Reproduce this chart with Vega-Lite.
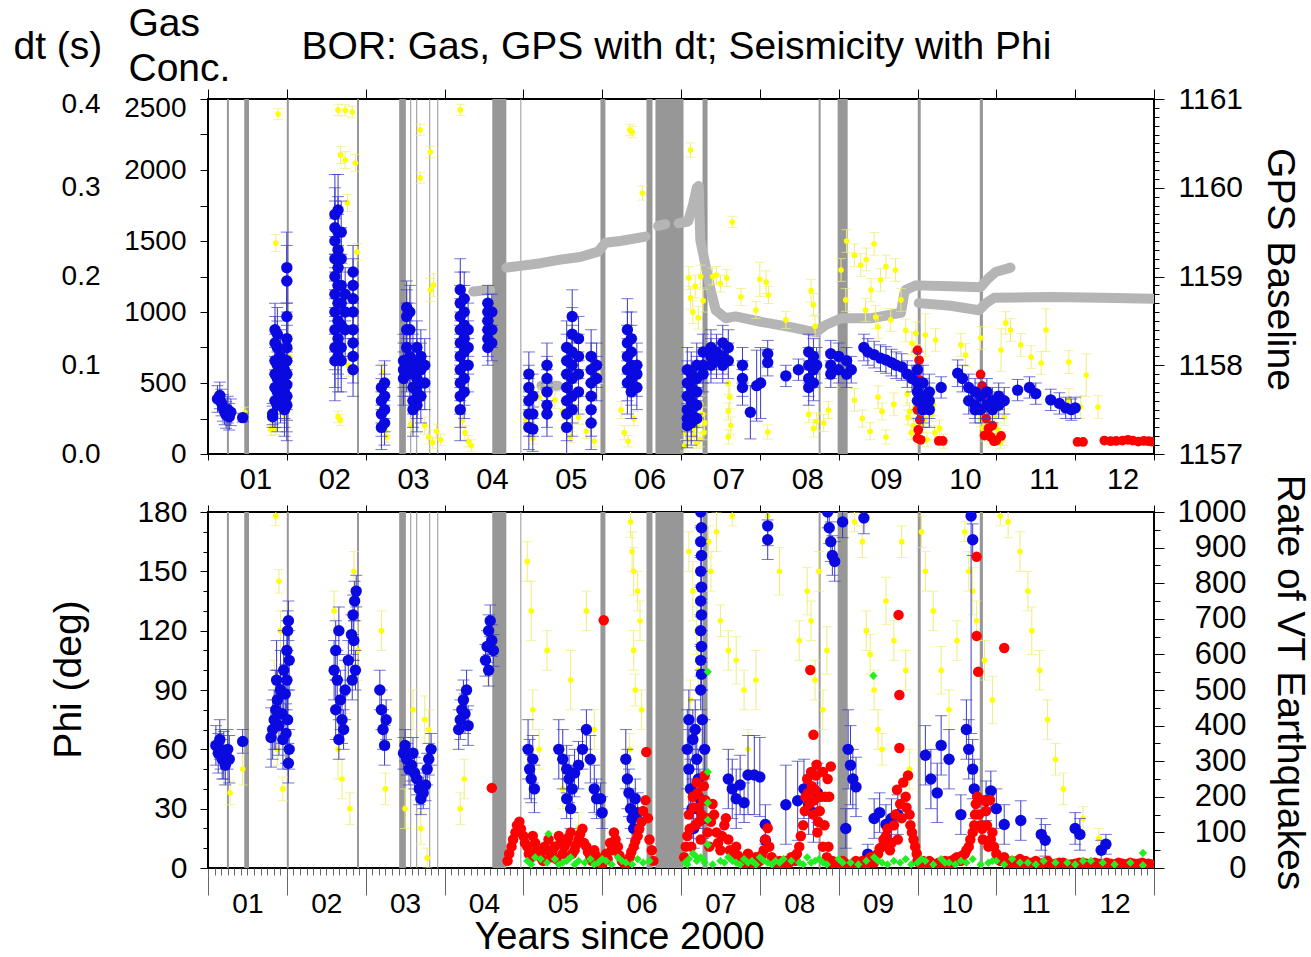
{
"$schema": "https://vega.github.io/schema/vega-lite/v6.json",
"background": "white",
"padding": {"left": 12, "top": 3, "right": 5, "bottom": 5},
"spacing": 58,
"bounds": "flush",
"config": {
  "font": "Liberation Sans",
  "view": {"stroke": "#000", "strokeWidth": 2},
  "axis": {"labelFont": "Liberation Sans", "titleFont": "Liberation Sans", "labelColor": "#000", "titleColor": "#000", "tickColor": "#000", "domain": false, "grid": false, "titleFontWeight": "normal", "labelOverlap": false, "labelFlush": false, "labelFontSize": 28}
},
"datasets": {
"bands": [{"a":1.24,"b":1.265},{"a":1.46,"b":1.52},{"a":2.0,"b":2.025},{"a":2.89,"b":2.915},{"a":3.425,"b":3.51},{"a":3.565,"b":3.578},{"a":3.641,"b":3.654},{"a":3.806,"b":3.819},{"a":3.908,"b":3.921},{"a":4.606,"b":4.784},{"a":4.962,"b":4.975},{"a":5.978,"b":6.041},{"a":6.562,"b":6.638},{"a":6.676,"b":7.032},{"a":7.273,"b":7.337},{"a":8.746,"b":8.771},{"a":8.987,"b":9.114},{"a":10.003,"b":10.041},{"a":10.79,"b":10.83}],
"gps": [{"t":4.365,"g":1158.83,"s":1},{"t":4.58,"g":1158.85,"s":1},
{"t":4.784,"g":1159.1,"s":2},{"t":4.96,"g":1159.12,"s":2},{"t":5.22,"g":1159.15,"s":2},{"t":5.47,"g":1159.19,"s":2},{"t":5.72,"g":1159.22,"s":2},{"t":5.95,"g":1159.28,"s":2},{"t":6.04,"g":1159.38,"s":2},{"t":6.23,"g":1159.4,"s":2},{"t":6.55,"g":1159.45,"s":2},
{"t":6.71,"g":1159.57,"s":3},{"t":6.8,"g":1159.59,"s":3},
{"t":6.97,"g":1159.6,"s":4},{"t":7.09,"g":1159.62,"s":4},{"t":7.15,"g":1159.8,"s":4},{"t":7.2,"g":1160.0,"s":4},{"t":7.225,"g":1160.02,"s":4},{"t":7.245,"g":1159.41,"s":4},{"t":7.31,"g":1159.13,"s":4},{"t":7.375,"g":1158.85,"s":4},{"t":7.44,"g":1158.62,"s":4},{"t":7.565,"g":1158.53,"s":4},{"t":7.69,"g":1158.55,"s":4},{"t":8.01,"g":1158.49,"s":4},{"t":8.39,"g":1158.43,"s":4},{"t":8.71,"g":1158.37,"s":4},{"t":8.83,"g":1158.45,"s":4},{"t":9.03,"g":1158.53,"s":4},{"t":9.41,"g":1158.53,"s":4},{"t":9.79,"g":1158.59,"s":4},{"t":9.83,"g":1158.8,"s":4},{"t":9.85,"g":1158.85,"s":4},{"t":9.98,"g":1158.9,"s":4},{"t":10.42,"g":1158.89,"s":4},{"t":10.8,"g":1158.88,"s":4},{"t":10.9,"g":1158.98,"s":4},{"t":10.99,"g":1159.05,"s":4},{"t":11.18,"g":1159.1,"s":4},
{"t":10.016,"g":1158.7,"s":5},{"t":10.42,"g":1158.67,"s":5},{"t":10.78,"g":1158.62,"s":5},{"t":10.87,"g":1158.7,"s":5},{"t":10.97,"g":1158.76,"s":5},{"t":11.69,"g":1158.77,"s":5},{"t":12.33,"g":1158.76,"s":5},{"t":13.0,"g":1158.75,"s":5},
{"t":5.23,"g":1157.77,"s":6},{"t":5.44,"g":1157.77,"s":6}],
"gas": [{"t":1.47,"g":290,"e":40},{"t":1.8,"g":170,"e":40},{"t":1.85,"g":175,"e":40},{"t":1.89,"g":2394,"e":40},{"t":1.86,"g":1486,"e":60},{"t":1.91,"g":310,"e":50},{"t":1.98,"g":275,"e":40},{"t":2.04,"g":683,"e":60},{"t":1.81,"g":204,"e":40},{"t":2.65,"g":2423,"e":40},{"t":2.74,"g":2420,"e":40},{"t":2.83,"g":2408,"e":40},{"t":2.68,"g":2106,"e":60},{"t":2.74,"g":2070,"e":60},{"t":2.87,"g":2049,"e":60},{"t":2.89,"g":1423,"e":60},{"t":2.77,"g":1768,"e":60},{"t":2.65,"g":261,"e":40},{"t":2.68,"g":240,"e":40},{"t":2.78,"g":627,"e":80},{"t":3.22,"g":577,"e":60},{"t":3.27,"g":120,"e":40},{"t":3.25,"g":169,"e":40},{"t":3.6,"g":289,"e":50},{"t":3.69,"g":2282,"e":40},{"t":3.82,"g":2127,"e":40},{"t":3.69,"g":1944,"e":40},{"t":3.82,"g":1155,"e":80},{"t":3.86,"g":1190,"e":80},{"t":3.75,"g":200,"e":60},{"t":3.8,"g":120,"e":50},{"t":3.85,"g":80,"e":40},{"t":3.9,"g":160,"e":50},{"t":3.95,"g":100,"e":40},{"t":3.57,"g":204,"e":50},{"t":4.2,"g":2423,"e":40},{"t":4.26,"g":150,"e":50},{"t":4.3,"g":90,"e":40},{"t":4.34,"g":60,"e":40},{"t":4.56,"g":944,"e":60},{"t":4.23,"g":240,"e":50},{"t":5.03,"g":240,"e":60},{"t":5.08,"g":180,"e":50},{"t":5.12,"g":110,"e":40},{"t":5.2,"g":400,"e":70},{"t":5.28,"g":450,"e":60},{"t":5.4,"g":380,"e":60},{"t":5.5,"g":300,"e":60},{"t":5.56,"g":200,"e":50},{"t":5.6,"g":120,"e":40},{"t":5.65,"g":330,"e":60},{"t":5.7,"g":260,"e":50},{"t":5.8,"g":160,"e":50},{"t":5.87,"g":500,"e":70},{"t":5.95,"g":556,"e":60},{"t":5.9,"g":90,"e":40},{"t":6.35,"g":2282,"e":40},{"t":6.38,"g":2268,"e":40},{"t":6.51,"g":1838,"e":50},{"t":6.24,"g":310,"e":60},{"t":6.28,"g":150,"e":50},{"t":6.33,"g":90,"e":40},{"t":6.4,"g":250,"e":50},{"t":7.12,"g":2141,"e":50},{"t":7.1,"g":1240,"e":80},{"t":7.12,"g":1100,"e":80},{"t":7.15,"g":1000,"e":80},{"t":7.18,"g":1180,"e":80},{"t":7.22,"g":960,"e":80},{"t":7.25,"g":1250,"e":80},{"t":7.28,"g":1080,"e":80},{"t":7.4,"g":1250,"e":60},{"t":7.45,"g":1260,"e":60},{"t":7.5,"g":1200,"e":60},{"t":7.58,"g":1240,"e":60},{"t":7.6,"g":500,"e":80},{"t":7.62,"g":400,"e":80},{"t":7.6,"g":300,"e":60},{"t":7.63,"g":200,"e":60},{"t":7.6,"g":120,"e":50},{"t":7.76,"g":1106,"e":60},{"t":7.95,"g":1014,"e":60},{"t":8.0,"g":1230,"e":120},{"t":8.08,"g":1210,"e":80},{"t":8.11,"g":1120,"e":60},{"t":8.33,"g":944,"e":60},{"t":8.1,"g":155,"e":50},{"t":7.65,"g":1634,"e":40},{"t":7.1,"g":450,"e":80},{"t":7.12,"g":300,"e":60},{"t":7.15,"g":180,"e":60},{"t":7.2,"g":80,"e":40},{"t":7.25,"g":350,"e":60},{"t":7.3,"g":220,"e":60},{"t":7.05,"g":60,"e":40},{"t":8.65,"g":1150,"e":80},{"t":8.68,"g":1050,"e":80},{"t":8.7,"g":900,"e":80},{"t":8.62,"g":280,"e":60},{"t":8.68,"g":180,"e":60},{"t":8.72,"g":230,"e":60},{"t":8.87,"g":310,"e":60},{"t":8.81,"g":218,"e":60},{"t":9.03,"g":1296,"e":80},{"t":9.28,"g":1331,"e":80},{"t":9.41,"g":1155,"e":80},{"t":9.53,"g":1225,"e":80},{"t":9.72,"g":1296,"e":80},{"t":9.79,"g":1085,"e":80},{"t":9.34,"g":1014,"e":80},{"t":9.47,"g":965,"e":80},{"t":9.5,"g":894,"e":80},{"t":9.66,"g":944,"e":80},{"t":9.09,"g":1085,"e":80},{"t":9.85,"g":870,"e":80},{"t":9.93,"g":780,"e":80},{"t":9.98,"g":850,"e":80},{"t":10.0,"g":683,"e":80},{"t":10.1,"g":838,"e":150},{"t":10.23,"g":803,"e":80},{"t":10.55,"g":768,"e":80},{"t":10.61,"g":697,"e":80},{"t":10.8,"g":817,"e":80},{"t":11.06,"g":732,"e":150},{"t":11.12,"g":923,"e":80},{"t":11.18,"g":873,"e":80},{"t":11.31,"g":768,"e":80},{"t":11.44,"g":683,"e":80},{"t":11.63,"g":873,"e":150},{"t":11.57,"g":641,"e":80},{"t":11.92,"g":648,"e":80},{"t":11.92,"g":380,"e":80},{"t":12.07,"g":331,"e":80},{"t":12.29,"g":331,"e":80},{"t":12.14,"g":556,"e":150},{"t":9.87,"g":420,"e":80},{"t":9.9,"g":300,"e":60},{"t":9.95,"g":200,"e":60},{"t":10.02,"g":120,"e":50},{"t":10.1,"g":250,"e":60},{"t":10.2,"g":350,"e":80},{"t":10.28,"g":180,"e":60},{"t":10.33,"g":90,"e":50},{"t":10.75,"g":350,"e":80},{"t":10.8,"g":250,"e":60},{"t":10.85,"g":150,"e":60},{"t":10.9,"g":300,"e":60},{"t":10.95,"g":200,"e":60},{"t":11.0,"g":130,"e":50},{"t":11.05,"g":80,"e":40},{"t":11.1,"g":260,"e":60},{"t":9.2,"g":380,"e":80},{"t":9.3,"g":250,"e":60},{"t":9.4,"g":160,"e":60},{"t":9.5,"g":400,"e":80},{"t":9.55,"g":300,"e":60},{"t":9.6,"g":120,"e":50},{"t":9.7,"g":350,"e":80},{"t":9.1,"g":1500,"e":80},{"t":9.2,"g":1400,"e":80},{"t":9.35,"g":1370,"e":80},{"t":9.45,"g":1480,"e":80},{"t":9.6,"g":1320,"e":80},
{"t":7.06,"g":150,"e":50},{"t":7.09,"g":100,"e":50},{"t":7.14,"g":250,"e":50},{"t":7.17,"g":130,"e":50},{"t":7.21,"g":200,"e":50},{"t":7.24,"g":100,"e":50},{"t":7.27,"g":280,"e":50},{"t":7.29,"g":150,"e":50},{"t":9.88,"g":260,"e":50},{"t":9.92,"g":150,"e":50},{"t":9.97,"g":330,"e":50},{"t":10.05,"g":200,"e":50},{"t":10.12,"g":100,"e":50},{"t":10.18,"g":280,"e":50},{"t":10.22,"g":150,"e":50},{"t":10.78,"g":300,"e":50},{"t":10.83,"g":180,"e":50},{"t":10.88,"g":220,"e":50},{"t":10.92,"g":120,"e":50},{"t":10.98,"g":260,"e":50},{"t":11.02,"g":170,"e":50},{"t":11.08,"g":110,"e":50}],
"redtop": [{"t":10.0,"g":730},{"t":10.02,"g":660},{"t":10.0,"g":590},{"t":10.03,"g":520},{"t":10.0,"g":450},{"t":10.02,"g":380},{"t":10.0,"g":310},{"t":10.03,"g":240},{"t":10.01,"g":170},{"t":10.0,"g":110},{"t":10.04,"g":100},{"t":10.27,"g":92},{"t":10.32,"g":92},{"t":10.8,"g":560},{"t":10.82,"g":480},{"t":10.85,"g":400},{"t":10.83,"g":320},{"t":10.87,"g":250},{"t":10.9,"g":180},{"t":10.93,"g":120},{"t":10.97,"g":90},{"t":11.0,"g":95},{"t":10.85,"g":130},{"t":10.95,"g":200},{"t":11.06,"g":127},{"t":12.03,"g":85},{"t":12.1,"g":85},{"t":12.37,"g":95},{"t":12.45,"g":90},{"t":12.52,"g":92},{"t":12.6,"g":95},{"t":12.67,"g":100},{"t":12.73,"g":95},{"t":12.8,"g":88},{"t":12.87,"g":92},{"t":12.93,"g":90},{"t":12.97,"g":88}],
"dt": [{"t":1.12,"v":0.062,"e":0.015},{"t":1.15,"v":0.066,"e":0.015},{"t":1.17,"v":0.058,"e":0.015},{"t":1.19,"v":0.052,"e":0.015},{"t":1.21,"v":0.048,"e":0.015},{"t":1.23,"v":0.044,"e":0.015},{"t":1.25,"v":0.05,"e":0.015},{"t":1.27,"v":0.042,"e":0.015},{"t":1.29,"v":0.047,"e":0.015},{"t":1.44,"v":0.041,"e":0.005},
{"t":1.82,"v":0.045,"e":0.012},{"t":1.82,"v":0.042,"e":0.012},
{"t":1.85,"v":0.14,"e":0.03},{"t":1.85,"v":0.125,"e":0.03},{"t":1.85,"v":0.105,"e":0.03},{"t":1.85,"v":0.09,"e":0.03},{"t":1.85,"v":0.075,"e":0.03},{"t":1.85,"v":0.06,"e":0.03},
{"t":1.88,"v":0.135,"e":0.03},{"t":1.88,"v":0.12,"e":0.03},{"t":1.88,"v":0.1,"e":0.03},{"t":1.88,"v":0.085,"e":0.03},{"t":1.88,"v":0.07,"e":0.03},{"t":1.88,"v":0.055,"e":0.03},
{"t":1.92,"v":0.11,"e":0.03},{"t":1.92,"v":0.095,"e":0.03},{"t":1.92,"v":0.08,"e":0.03},{"t":1.92,"v":0.065,"e":0.03},
{"t":1.97,"v":0.095,"e":0.03},{"t":1.97,"v":0.08,"e":0.03},{"t":1.97,"v":0.07,"e":0.03},{"t":1.97,"v":0.06,"e":0.03},{"t":1.97,"v":0.05,"e":0.03},
{"t":2.0,"v":0.21,"e":0.04},{"t":2.0,"v":0.195,"e":0.04},{"t":2.0,"v":0.155,"e":0.04},{"t":2.0,"v":0.13,"e":0.04},{"t":2.0,"v":0.12,"e":0.04},{"t":2.0,"v":0.105,"e":0.04},{"t":2.0,"v":0.09,"e":0.04},{"t":2.0,"v":0.078,"e":0.04},{"t":2.0,"v":0.065,"e":0.04},{"t":2.0,"v":0.055,"e":0.04},
{"t":2.61,"v":0.27,"e":0.045},{"t":2.61,"v":0.255,"e":0.045},{"t":2.61,"v":0.24,"e":0.045},{"t":2.61,"v":0.22,"e":0.045},{"t":2.61,"v":0.2,"e":0.045},{"t":2.61,"v":0.18,"e":0.045},{"t":2.61,"v":0.16,"e":0.045},{"t":2.61,"v":0.14,"e":0.045},{"t":2.61,"v":0.12,"e":0.045},{"t":2.61,"v":0.105,"e":0.045},
{"t":2.65,"v":0.275,"e":0.04},{"t":2.65,"v":0.25,"e":0.04},{"t":2.65,"v":0.23,"e":0.04},{"t":2.65,"v":0.21,"e":0.04},{"t":2.65,"v":0.19,"e":0.04},{"t":2.65,"v":0.17,"e":0.04},{"t":2.65,"v":0.15,"e":0.04},{"t":2.65,"v":0.13,"e":0.04},{"t":2.65,"v":0.11,"e":0.04},
{"t":2.69,"v":0.25,"e":0.035},{"t":2.69,"v":0.22,"e":0.035},{"t":2.69,"v":0.19,"e":0.035},{"t":2.69,"v":0.17,"e":0.035},{"t":2.69,"v":0.145,"e":0.035},{"t":2.69,"v":0.12,"e":0.035},{"t":2.69,"v":0.105,"e":0.035},
{"t":2.74,"v":0.18,"e":0.03},{"t":2.74,"v":0.16,"e":0.03},{"t":2.74,"v":0.14,"e":0.03},
{"t":2.84,"v":0.205,"e":0.03},{"t":2.84,"v":0.19,"e":0.03},{"t":2.84,"v":0.175,"e":0.03},{"t":2.84,"v":0.16,"e":0.03},{"t":2.84,"v":0.14,"e":0.03},{"t":2.84,"v":0.125,"e":0.03},{"t":2.84,"v":0.11,"e":0.03},{"t":2.84,"v":0.095,"e":0.03},
{"t":3.2,"v":0.075,"e":0.025},{"t":3.2,"v":0.06,"e":0.025},{"t":3.2,"v":0.045,"e":0.025},{"t":3.2,"v":0.03,"e":0.025},{"t":3.24,"v":0.08,"e":0.025},{"t":3.24,"v":0.065,"e":0.025},{"t":3.24,"v":0.05,"e":0.025},{"t":3.24,"v":0.035,"e":0.025},
{"t":3.48,"v":0.105,"e":0.03},{"t":3.48,"v":0.095,"e":0.03},{"t":3.48,"v":0.085,"e":0.03},
{"t":3.52,"v":0.165,"e":0.03},{"t":3.52,"v":0.155,"e":0.03},{"t":3.52,"v":0.14,"e":0.03},{"t":3.52,"v":0.12,"e":0.03},{"t":3.52,"v":0.1,"e":0.03},
{"t":3.56,"v":0.16,"e":0.03},{"t":3.56,"v":0.14,"e":0.03},{"t":3.56,"v":0.11,"e":0.03},{"t":3.56,"v":0.095,"e":0.03},
{"t":3.6,"v":0.105,"e":0.03},{"t":3.6,"v":0.09,"e":0.03},{"t":3.6,"v":0.075,"e":0.03},{"t":3.6,"v":0.06,"e":0.03},{"t":3.6,"v":0.05,"e":0.03},
{"t":3.65,"v":0.12,"e":0.03},{"t":3.65,"v":0.1,"e":0.03},{"t":3.65,"v":0.085,"e":0.03},{"t":3.65,"v":0.07,"e":0.03},{"t":3.65,"v":0.055,"e":0.03},
{"t":3.7,"v":0.11,"e":0.03},{"t":3.7,"v":0.095,"e":0.03},{"t":3.7,"v":0.08,"e":0.03},{"t":3.7,"v":0.065,"e":0.03},{"t":3.75,"v":0.1,"e":0.03},{"t":3.75,"v":0.08,"e":0.03},
{"t":4.2,"v":0.185,"e":0.035},{"t":4.2,"v":0.17,"e":0.035},{"t":4.2,"v":0.155,"e":0.035},{"t":4.2,"v":0.14,"e":0.035},{"t":4.2,"v":0.125,"e":0.035},{"t":4.2,"v":0.11,"e":0.035},{"t":4.2,"v":0.095,"e":0.035},{"t":4.2,"v":0.08,"e":0.035},{"t":4.2,"v":0.065,"e":0.035},{"t":4.2,"v":0.05,"e":0.035},
{"t":4.25,"v":0.175,"e":0.03},{"t":4.25,"v":0.16,"e":0.03},{"t":4.25,"v":0.145,"e":0.03},{"t":4.25,"v":0.13,"e":0.03},{"t":4.25,"v":0.115,"e":0.03},{"t":4.25,"v":0.1,"e":0.03},{"t":4.25,"v":0.085,"e":0.03},{"t":4.25,"v":0.07,"e":0.03},
{"t":4.3,"v":0.14,"e":0.03},{"t":4.3,"v":0.12,"e":0.03},{"t":4.3,"v":0.1,"e":0.03},
{"t":4.55,"v":0.17,"e":0.02},{"t":4.55,"v":0.16,"e":0.02},{"t":4.55,"v":0.15,"e":0.02},{"t":4.55,"v":0.14,"e":0.02},{"t":4.55,"v":0.13,"e":0.02},{"t":4.55,"v":0.12,"e":0.02},{"t":4.6,"v":0.16,"e":0.02},{"t":4.6,"v":0.14,"e":0.02},{"t":4.6,"v":0.125,"e":0.02},
{"t":5.07,"v":0.09,"e":0.025},{"t":5.07,"v":0.075,"e":0.025},{"t":5.07,"v":0.06,"e":0.025},{"t":5.07,"v":0.045,"e":0.025},{"t":5.07,"v":0.03,"e":0.025},{"t":5.12,"v":0.065,"e":0.025},{"t":5.12,"v":0.045,"e":0.025},{"t":5.12,"v":0.028,"e":0.025},
{"t":5.3,"v":0.1,"e":0.025},{"t":5.3,"v":0.085,"e":0.025},{"t":5.3,"v":0.07,"e":0.025},{"t":5.3,"v":0.055,"e":0.025},{"t":5.3,"v":0.045,"e":0.025},
{"t":5.55,"v":0.12,"e":0.03},{"t":5.55,"v":0.105,"e":0.03},{"t":5.55,"v":0.09,"e":0.03},{"t":5.55,"v":0.075,"e":0.03},{"t":5.55,"v":0.06,"e":0.03},{"t":5.55,"v":0.045,"e":0.03},{"t":5.55,"v":0.03,"e":0.03},
{"t":5.62,"v":0.155,"e":0.03},{"t":5.62,"v":0.135,"e":0.03},{"t":5.62,"v":0.115,"e":0.03},{"t":5.62,"v":0.1,"e":0.03},{"t":5.62,"v":0.085,"e":0.03},{"t":5.62,"v":0.065,"e":0.03},{"t":5.62,"v":0.05,"e":0.03},
{"t":5.7,"v":0.13,"e":0.025},{"t":5.7,"v":0.11,"e":0.025},{"t":5.7,"v":0.09,"e":0.025},{"t":5.7,"v":0.07,"e":0.025},
{"t":5.86,"v":0.11,"e":0.03},{"t":5.86,"v":0.095,"e":0.03},{"t":5.86,"v":0.08,"e":0.03},{"t":5.86,"v":0.065,"e":0.03},{"t":5.86,"v":0.05,"e":0.03},{"t":5.86,"v":0.035,"e":0.03},{"t":5.93,"v":0.1,"e":0.025},{"t":5.93,"v":0.085,"e":0.025},
{"t":6.32,"v":0.14,"e":0.035},{"t":6.32,"v":0.125,"e":0.035},{"t":6.32,"v":0.11,"e":0.035},{"t":6.32,"v":0.095,"e":0.035},{"t":6.32,"v":0.08,"e":0.035},
{"t":6.37,"v":0.13,"e":0.03},{"t":6.37,"v":0.115,"e":0.03},{"t":6.37,"v":0.1,"e":0.03},{"t":6.37,"v":0.085,"e":0.03},{"t":6.37,"v":0.07,"e":0.03},{"t":6.44,"v":0.1,"e":0.025},{"t":6.44,"v":0.09,"e":0.025},{"t":6.44,"v":0.075,"e":0.025},
{"t":7.08,"v":0.095,"e":0.025},{"t":7.08,"v":0.08,"e":0.025},{"t":7.08,"v":0.065,"e":0.025},{"t":7.08,"v":0.05,"e":0.025},{"t":7.08,"v":0.04,"e":0.025},{"t":7.08,"v":0.032,"e":0.025},
{"t":7.13,"v":0.09,"e":0.025},{"t":7.13,"v":0.075,"e":0.025},{"t":7.13,"v":0.06,"e":0.025},{"t":7.13,"v":0.045,"e":0.025},{"t":7.13,"v":0.035,"e":0.025},
{"t":7.2,"v":0.1,"e":0.025},{"t":7.2,"v":0.085,"e":0.025},{"t":7.2,"v":0.07,"e":0.025},{"t":7.2,"v":0.055,"e":0.025},{"t":7.2,"v":0.04,"e":0.025},
{"t":7.28,"v":0.115,"e":0.02},{"t":7.28,"v":0.1,"e":0.02},{"t":7.28,"v":0.09,"e":0.02},{"t":7.38,"v":0.12,"e":0.02},{"t":7.38,"v":0.11,"e":0.02},{"t":7.38,"v":0.1,"e":0.02},{"t":7.45,"v":0.115,"e":0.02},{"t":7.45,"v":0.105,"e":0.02},{"t":7.53,"v":0.125,"e":0.02},{"t":7.53,"v":0.11,"e":0.02},{"t":7.53,"v":0.1,"e":0.02},{"t":7.6,"v":0.12,"e":0.02},{"t":7.6,"v":0.105,"e":0.02},
{"t":7.78,"v":0.1,"e":0.02},{"t":7.78,"v":0.085,"e":0.02},{"t":7.78,"v":0.075,"e":0.02},{"t":7.88,"v":0.047,"e":0.03},{"t":7.96,"v":0.077,"e":0.04},{"t":8.01,"v":0.08,"e":0.04},{"t":8.1,"v":0.113,"e":0.015},{"t":8.1,"v":0.103,"e":0.015},{"t":8.33,"v":0.088,"e":0.012},{"t":8.49,"v":0.095,"e":0.012},
{"t":8.62,"v":0.115,"e":0.02},{"t":8.62,"v":0.1,"e":0.02},{"t":8.62,"v":0.085,"e":0.02},{"t":8.62,"v":0.075,"e":0.02},{"t":8.68,"v":0.11,"e":0.02},{"t":8.68,"v":0.095,"e":0.02},{"t":8.68,"v":0.08,"e":0.02},{"t":8.72,"v":0.1,"e":0.02},
{"t":8.9,"v":0.113,"e":0.015},{"t":8.9,"v":0.1,"e":0.015},{"t":8.9,"v":0.09,"e":0.015},{"t":9.0,"v":0.11,"e":0.015},{"t":9.0,"v":0.095,"e":0.015},{"t":9.1,"v":0.105,"e":0.015},{"t":9.1,"v":0.09,"e":0.015},{"t":9.16,"v":0.095,"e":0.015},
{"t":9.32,"v":0.12,"e":0.015},{"t":9.37,"v":0.115,"e":0.015},{"t":9.45,"v":0.112,"e":0.015},{"t":9.53,"v":0.108,"e":0.015},{"t":9.6,"v":0.106,"e":0.015},{"t":9.67,"v":0.103,"e":0.015},{"t":9.73,"v":0.1,"e":0.015},{"t":9.8,"v":0.098,"e":0.015},{"t":9.87,"v":0.09,"e":0.015},{"t":9.93,"v":0.085,"e":0.015},
{"t":10.0,"v":0.095,"e":0.02},{"t":10.0,"v":0.08,"e":0.02},{"t":10.0,"v":0.07,"e":0.02},{"t":10.0,"v":0.06,"e":0.02},{"t":10.07,"v":0.08,"e":0.02},{"t":10.07,"v":0.065,"e":0.02},{"t":10.07,"v":0.055,"e":0.02},{"t":10.07,"v":0.05,"e":0.02},{"t":10.15,"v":0.07,"e":0.02},{"t":10.15,"v":0.06,"e":0.02},{"t":10.15,"v":0.05,"e":0.02},{"t":10.3,"v":0.075,"e":0.012},
{"t":10.51,"v":0.091,"e":0.015},{"t":10.57,"v":0.085,"e":0.015},{"t":10.65,"v":0.075,"e":0.015},{"t":10.65,"v":0.06,"e":0.015},{"t":10.73,"v":0.07,"e":0.015},{"t":10.73,"v":0.055,"e":0.015},{"t":10.73,"v":0.05,"e":0.015},{"t":10.8,"v":0.065,"e":0.015},{"t":10.8,"v":0.05,"e":0.015},{"t":10.88,"v":0.07,"e":0.015},{"t":10.88,"v":0.055,"e":0.015},{"t":10.95,"v":0.06,"e":0.015},{"t":10.95,"v":0.05,"e":0.015},{"t":11.03,"v":0.065,"e":0.015},{"t":11.03,"v":0.055,"e":0.015},{"t":11.1,"v":0.06,"e":0.015},
{"t":11.27,"v":0.072,"e":0.012},{"t":11.42,"v":0.075,"e":0.012},{"t":11.5,"v":0.068,"e":0.012},{"t":11.69,"v":0.061,"e":0.012},{"t":11.8,"v":0.057,"e":0.012},{"t":11.88,"v":0.052,"e":0.012},{"t":11.95,"v":0.05,"e":0.012},{"t":12.0,"v":0.052,"e":0.012}],
"phiY": [{"t":1.2,"p":50,"e":8},{"t":1.28,"p":38,"e":6},{"t":1.44,"p":50,"e":8},{"t":1.86,"p":178,"e":5},{"t":1.9,"p":145,"e":6},{"t":1.92,"p":120,"e":10},{"t":1.84,"p":95,"e":10},{"t":1.88,"p":60,"e":8},{"t":1.95,"p":40,"e":6},{"t":2.6,"p":130,"e":10},{"t":2.65,"p":60,"e":15},{"t":2.7,"p":45,"e":10},{"t":2.75,"p":90,"e":12},{"t":2.8,"p":30,"e":8},{"t":2.85,"p":150,"e":10},{"t":2.9,"p":110,"e":15},{"t":3.2,"p":120,"e":10},{"t":3.25,"p":40,"e":8},{"t":3.5,"p":30,"e":10},{"t":3.6,"p":80,"e":10},{"t":3.7,"p":20,"e":8},{"t":3.75,"p":75,"e":12},{"t":3.8,"p":70,"e":10},{"t":3.78,"p":5,"e":5},{"t":4.2,"p":30,"e":8},{"t":4.25,"p":45,"e":10},{"t":4.55,"p":100,"e":8},{"t":5.05,"p":155,"e":10},{"t":5.1,"p":130,"e":15},{"t":5.12,"p":80,"e":10},{"t":5.2,"p":60,"e":10},{"t":5.3,"p":110,"e":10},{"t":5.5,"p":40,"e":10},{"t":5.6,"p":95,"e":15},{"t":5.7,"p":20,"e":8},{"t":5.8,"p":130,"e":10},{"t":5.9,"p":70,"e":10},{"t":6.36,"p":175,"e":8},{"t":6.38,"p":160,"e":10},{"t":6.4,"p":150,"e":12},{"t":6.45,"p":140,"e":10},{"t":6.4,"p":110,"e":10},{"t":6.48,"p":125,"e":10},{"t":6.42,"p":90,"e":8},{"t":6.35,"p":60,"e":8},{"t":6.5,"p":80,"e":10},{"t":7.1,"p":160,"e":10},{"t":7.15,"p":140,"e":15},{"t":7.2,"p":120,"e":12},{"t":7.22,"p":100,"e":10},{"t":7.12,"p":85,"e":10},{"t":7.35,"p":165,"e":8},{"t":7.38,"p":150,"e":10},{"t":7.45,"p":170,"e":10},{"t":7.5,"p":125,"e":8},{"t":7.6,"p":110,"e":10},{"t":7.65,"p":178,"e":5},{"t":7.7,"p":105,"e":12},{"t":7.8,"p":90,"e":10},{"t":7.85,"p":60,"e":10},{"t":7.95,"p":95,"e":15},{"t":8.1,"p":178,"e":4},{"t":8.25,"p":150,"e":12},{"t":8.5,"p":115,"e":10},{"t":8.6,"p":140,"e":12},{"t":8.65,"p":125,"e":10},{"t":8.7,"p":95,"e":10},{"t":8.75,"p":150,"e":10},{"t":8.8,"p":80,"e":10},{"t":8.85,"p":110,"e":12},{"t":9.2,"p":175,"e":5},{"t":9.3,"p":165,"e":8},{"t":9.35,"p":120,"e":10},{"t":9.4,"p":108,"e":10},{"t":9.45,"p":90,"e":10},{"t":9.5,"p":70,"e":10},{"t":9.55,"p":60,"e":8},{"t":9.6,"p":135,"e":12},{"t":9.7,"p":115,"e":10},{"t":9.8,"p":165,"e":8},{"t":9.85,"p":100,"e":10},{"t":9.9,"p":50,"e":10},{"t":10.05,"p":170,"e":8},{"t":10.1,"p":150,"e":10},{"t":10.2,"p":130,"e":10},{"t":10.3,"p":100,"e":12},{"t":10.4,"p":80,"e":10},{"t":10.5,"p":115,"e":10},{"t":10.6,"p":170,"e":5},{"t":10.65,"p":150,"e":10},{"t":10.7,"p":140,"e":12},{"t":10.75,"p":125,"e":10},{"t":10.85,"p":105,"e":10},{"t":10.95,"p":85,"e":12},{"t":11.05,"p":178,"e":5},{"t":11.15,"p":175,"e":8},{"t":11.3,"p":160,"e":10},{"t":11.4,"p":140,"e":10},{"t":11.45,"p":120,"e":12},{"t":11.55,"p":100,"e":10},{"t":11.65,"p":75,"e":10},{"t":11.75,"p":55,"e":8},{"t":11.85,"p":40,"e":8},{"t":12.1,"p":25,"e":6},{"t":12.3,"p":15,"e":5}],
"phiB": [{"t":1.1,"p":62,"e":10},{"t":1.13,"p":58,"e":10},{"t":1.16,"p":60,"e":10},{"t":1.18,"p":55,"e":10},{"t":1.2,"p":57,"e":12},{"t":1.22,"p":52,"e":10},{"t":1.25,"p":60,"e":10},{"t":1.27,"p":55,"e":12},{"t":1.15,"p":65,"e":10},{"t":1.44,"p":64,"e":6},
{"t":1.8,"p":66,"e":15},{"t":1.82,"p":70,"e":15},{"t":1.84,"p":75,"e":15},{"t":1.86,"p":80,"e":20},{"t":1.87,"p":95,"e":20},{"t":1.88,"p":85,"e":15},{"t":1.9,"p":72,"e":15},{"t":1.92,"p":90,"e":20},{"t":1.94,"p":78,"e":15},{"t":1.96,"p":100,"e":20},{"t":1.98,"p":88,"e":15},{"t":2.0,"p":110,"e":15},{"t":2.01,"p":120,"e":10},{"t":2.02,"p":125,"e":10},{"t":2.0,"p":95,"e":15},{"t":2.01,"p":75,"e":15},{"t":2.03,"p":60,"e":10},{"t":2.02,"p":53,"e":10},{"t":1.99,"p":68,"e":15},{"t":2.03,"p":105,"e":15},{"t":1.95,"p":65,"e":15},
{"t":2.6,"p":100,"e":15},{"t":2.62,"p":110,"e":15},{"t":2.64,"p":95,"e":15},{"t":2.66,"p":120,"e":12},{"t":2.68,"p":85,"e":15},{"t":2.7,"p":75,"e":12},{"t":2.72,"p":70,"e":10},{"t":2.62,"p":80,"e":15},{"t":2.66,"p":65,"e":10},{"t":2.74,"p":90,"e":15},{"t":2.78,"p":105,"e":10},{"t":2.82,"p":118,"e":10},{"t":2.84,"p":128,"e":10},{"t":2.86,"p":135,"e":10},{"t":2.88,"p":140,"e":8},{"t":2.85,"p":115,"e":10},{"t":2.87,"p":100,"e":10},{"t":2.83,"p":95,"e":10},
{"t":3.18,"p":90,"e":10},{"t":3.2,"p":80,"e":10},{"t":3.22,"p":70,"e":10},{"t":3.24,"p":62,"e":10},{"t":3.26,"p":75,"e":10},{"t":3.48,"p":58,"e":8},{"t":3.52,"p":55,"e":8},{"t":3.55,"p":50,"e":8},{"t":3.58,"p":52,"e":8},{"t":3.62,"p":48,"e":8},{"t":3.65,"p":45,"e":8},{"t":3.68,"p":40,"e":8},{"t":3.7,"p":35,"e":8},{"t":3.73,"p":38,"e":8},{"t":3.76,"p":42,"e":8},{"t":3.78,"p":50,"e":8},{"t":3.8,"p":55,"e":8},{"t":3.83,"p":60,"e":8},{"t":3.6,"p":58,"e":8},{"t":3.5,"p":62,"e":8},
{"t":4.18,"p":70,"e":10},{"t":4.2,"p":75,"e":10},{"t":4.22,"p":80,"e":10},{"t":4.24,"p":85,"e":10},{"t":4.26,"p":78,"e":10},{"t":4.28,"p":90,"e":10},{"t":4.3,"p":72,"e":10},{"t":4.52,"p":105,"e":8},{"t":4.54,"p":112,"e":8},{"t":4.56,"p":120,"e":8},{"t":4.58,"p":125,"e":8},{"t":4.6,"p":115,"e":8},{"t":4.62,"p":110,"e":8},{"t":4.56,"p":100,"e":8},
{"t":5.06,"p":60,"e":15},{"t":5.08,"p":50,"e":15},{"t":5.1,"p":45,"e":12},{"t":5.12,"p":55,"e":12},{"t":5.14,"p":40,"e":12},{"t":5.45,"p":60,"e":15},{"t":5.5,"p":55,"e":15},{"t":5.55,"p":50,"e":12},{"t":5.58,"p":45,"e":12},{"t":5.62,"p":40,"e":12},{"t":5.65,"p":48,"e":12},{"t":5.7,"p":52,"e":12},{"t":5.75,"p":60,"e":10},{"t":5.8,"p":70,"e":10},{"t":5.85,"p":55,"e":12},{"t":5.9,"p":40,"e":12},{"t":5.93,"p":35,"e":10},{"t":5.55,"p":35,"e":10},{"t":5.6,"p":30,"e":10},{"t":5.98,"p":35,"e":8},{"t":6.0,"p":28,"e":8},
{"t":6.3,"p":55,"e":15},{"t":6.32,"p":45,"e":15},{"t":6.34,"p":38,"e":12},{"t":6.36,"p":30,"e":10},{"t":6.38,"p":25,"e":10},{"t":6.4,"p":20,"e":10},{"t":6.42,"p":35,"e":10},{"t":6.45,"p":28,"e":10},
{"t":7.25,"p":180,"e":8},{"t":7.26,"p":172,"e":8},{"t":7.25,"p":165,"e":8},{"t":7.26,"p":158,"e":8},{"t":7.25,"p":150,"e":8},{"t":7.26,"p":142,"e":8},{"t":7.25,"p":135,"e":8},{"t":7.26,"p":128,"e":8},{"t":7.25,"p":120,"e":8},{"t":7.26,"p":112,"e":8},{"t":7.25,"p":105,"e":8},{"t":7.26,"p":98,"e":8},{"t":7.25,"p":90,"e":10},
{"t":7.08,"p":60,"e":20},{"t":7.1,"p":50,"e":20},{"t":7.12,"p":40,"e":15},{"t":7.14,"p":30,"e":15},{"t":7.16,"p":20,"e":10},{"t":7.18,"p":70,"e":15},{"t":7.2,"p":55,"e":15},{"t":7.22,"p":45,"e":15},{"t":7.24,"p":35,"e":15},{"t":7.28,"p":25,"e":10},{"t":7.3,"p":60,"e":15},{"t":7.1,"p":75,"e":15},{"t":7.15,"p":65,"e":15},{"t":7.2,"p":30,"e":10},{"t":7.27,"p":75,"e":15},
{"t":7.6,"p":45,"e":15},{"t":7.65,"p":40,"e":15},{"t":7.7,"p":35,"e":15},{"t":7.75,"p":42,"e":15},{"t":7.8,"p":33,"e":10},{"t":7.85,"p":47,"e":20},{"t":7.93,"p":47,"e":20},{"t":8.0,"p":46,"e":20},{"t":8.1,"p":173,"e":10},{"t":8.1,"p":166,"e":10},{"t":8.07,"p":22,"e":10},{"t":8.07,"p":14,"e":8},{"t":8.33,"p":32,"e":20},{"t":8.48,"p":34,"e":20},{"t":8.56,"p":40,"e":15},{"t":8.62,"p":32,"e":15},{"t":8.68,"p":28,"e":15},{"t":8.73,"p":38,"e":15},{"t":8.86,"p":180,"e":8},{"t":8.88,"p":172,"e":8},{"t":8.9,"p":165,"e":10},{"t":8.92,"p":158,"e":10},{"t":8.95,"p":155,"e":10},{"t":9.05,"p":175,"e":8},{"t":9.32,"p":177,"e":8},{"t":9.12,"p":60,"e":20},{"t":9.15,"p":52,"e":20},{"t":9.18,"p":45,"e":15},{"t":9.22,"p":41,"e":15},{"t":9.09,"p":20,"e":10},{"t":9.37,"p":7,"e":5},{"t":9.45,"p":25,"e":10},{"t":9.52,"p":28,"e":10},{"t":9.6,"p":22,"e":10},{"t":9.67,"p":25,"e":10},{"t":9.75,"p":27,"e":10},
{"t":10.1,"p":57,"e":15},{"t":10.17,"p":45,"e":15},{"t":10.25,"p":38,"e":15},{"t":10.3,"p":62,"e":15},{"t":10.4,"p":55,"e":15},{"t":10.55,"p":27,"e":10},{"t":10.62,"p":70,"e":15},{"t":10.65,"p":60,"e":15},{"t":10.7,"p":50,"e":15},{"t":10.72,"p":40,"e":15},{"t":10.68,"p":178,"e":110},{"t":10.7,"p":166,"e":8},{"t":10.87,"p":34,"e":10},{"t":10.93,"p":39,"e":10},{"t":11.0,"p":30,"e":10},{"t":11.1,"p":22,"e":10},{"t":11.31,"p":24,"e":10},{"t":11.57,"p":17,"e":8},{"t":11.62,"p":14,"e":8},{"t":12.0,"p":20,"e":8},{"t":12.06,"p":17,"e":8},{"t":12.33,"p":9,"e":5},{"t":12.39,"p":12,"e":5}],
"rate": [{"t":4.6,"r":225},{"t":4.8,"r":20},{"t":4.85,"r":60},{"t":4.9,"r":100},{"t":4.95,"r":130},{"t":5.0,"r":90},{"t":5.05,"r":60},{"t":5.1,"r":30},{"t":5.15,"r":70},{"t":5.2,"r":40},{"t":5.25,"r":20},{"t":5.3,"r":50},{"t":5.35,"r":30},{"t":5.4,"r":60},{"t":5.45,"r":90},{"t":5.5,"r":40},{"t":5.55,"r":70},{"t":5.6,"r":100},{"t":5.65,"r":50},{"t":5.7,"r":80},{"t":5.75,"r":110},{"t":5.8,"r":60},{"t":5.85,"r":30},{"t":5.9,"r":50},{"t":5.95,"r":20},{"t":6.0,"r":10},{"t":6.02,"r":696},{"t":6.05,"r":40},{"t":6.1,"r":70},{"t":6.15,"r":100},{"t":6.2,"r":60},{"t":6.25,"r":20},{"t":6.3,"r":10},{"t":6.35,"r":30},{"t":6.4,"r":60},{"t":6.45,"r":90},{"t":6.5,"r":130},{"t":6.55,"r":190},{"t":6.56,"r":326},{"t":6.6,"r":80},{"t":6.65,"r":20},
{"t":7.04,"r":30},{"t":7.08,"r":90},{"t":7.1,"r":150},{"t":7.13,"r":60},{"t":7.15,"r":200},{"t":7.18,"r":120},{"t":7.2,"r":240},{"t":7.22,"r":170},{"t":7.25,"r":80},{"t":7.28,"r":190},{"t":7.3,"r":260},{"t":7.33,"r":140},{"t":7.36,"r":60},{"t":7.4,"r":180},{"t":7.45,"r":100},{"t":7.5,"r":50},{"t":7.55,"r":120},{"t":7.6,"r":80},{"t":7.65,"r":30},{"t":7.7,"r":60},{"t":7.75,"r":20},{"t":7.8,"r":10},{"t":7.85,"r":40},{"t":7.9,"r":15},{"t":7.95,"r":30},{"t":8.0,"r":20},{"t":8.05,"r":50},{"t":8.1,"r":112},{"t":8.15,"r":30},{"t":8.2,"r":10},{"t":8.25,"r":20},{"t":8.3,"r":15},{"t":8.35,"r":10},{"t":8.4,"r":30},{"t":8.45,"r":20},{"t":8.5,"r":60},{"t":8.55,"r":120},{"t":8.58,"r":200},{"t":8.6,"r":250},{"t":8.63,"r":180},{"t":8.64,"r":556},{"t":8.65,"r":270},{"t":8.68,"r":374},{"t":8.68,"r":150},{"t":8.7,"r":220},{"t":8.72,"r":290},{"t":8.73,"r":100},{"t":8.76,"r":160},{"t":8.8,"r":270},{"t":8.8,"r":60},{"t":8.83,"r":200},{"t":8.86,"r":250},{"t":8.88,"r":200},{"t":8.9,"r":285},{"t":8.85,"r":30},{"t":8.9,"r":15},{"t":8.95,"r":10},{"t":9.0,"r":5},{"t":9.05,"r":20},{"t":9.1,"r":10},{"t":9.15,"r":5},{"t":9.2,"r":15},{"t":9.25,"r":10},{"t":9.3,"r":20},{"t":9.35,"r":10},{"t":9.4,"r":30},{"t":9.45,"r":15},{"t":9.5,"r":40},{"t":9.55,"r":60},{"t":9.6,"r":90},{"t":9.65,"r":50},{"t":9.7,"r":120},{"t":9.75,"r":80},{"t":9.76,"r":711},{"t":9.77,"r":486},{"t":9.77,"r":337},{"t":9.8,"r":140},{"t":9.85,"r":200},{"t":9.88,"r":260},{"t":9.9,"r":150},{"t":9.93,"r":100},{"t":9.97,"r":60},{"t":10.0,"r":20},{"t":10.05,"r":10},{"t":10.1,"r":15},{"t":10.15,"r":20},{"t":10.2,"r":10},{"t":10.25,"r":5},{"t":10.3,"r":15},{"t":10.35,"r":20},{"t":10.4,"r":10},{"t":10.45,"r":15},{"t":10.5,"r":30},{"t":10.55,"r":20},{"t":10.6,"r":40},{"t":10.65,"r":60},{"t":10.7,"r":100},{"t":10.73,"r":150},{"t":10.75,"r":874},{"t":10.75,"r":652},{"t":10.77,"r":551},{"t":10.76,"r":200},{"t":10.8,"r":120},{"t":10.83,"r":80},{"t":10.87,"r":160},{"t":10.9,"r":60},{"t":10.92,"r":191},{"t":10.95,"r":100},{"t":11.0,"r":40},{"t":11.05,"r":20},{"t":11.1,"r":618},{"t":11.1,"r":30},{"t":11.15,"r":15},{"t":11.2,"r":20},{"t":11.25,"r":10},{"t":11.3,"r":25},{"t":11.35,"r":15},{"t":11.4,"r":10},{"t":11.5,"r":20},{"t":11.6,"r":15},{"t":11.7,"r":10},{"t":11.8,"r":15},{"t":11.9,"r":10},{"t":12.0,"r":12},{"t":12.1,"r":15},{"t":12.2,"r":10},{"t":12.3,"r":12},{"t":12.4,"r":15},{"t":12.5,"r":10},{"t":12.6,"r":12},{"t":12.7,"r":15},{"t":12.8,"r":12},{"t":12.9,"r":10},{"t":12.97,"r":10},
{"t":4.82,"r":40},{"t":4.87,"r":80},{"t":4.92,"r":120},{"t":4.97,"r":110},{"t":5.02,"r":70},{"t":5.07,"r":40},{"t":5.12,"r":90},{"t":5.17,"r":50},{"t":5.22,"r":30},{"t":5.27,"r":60},{"t":5.32,"r":80},{"t":5.37,"r":45},{"t":5.42,"r":25},{"t":5.47,"r":70},{"t":5.52,"r":60},{"t":5.57,"r":85},{"t":5.62,"r":40},{"t":5.67,"r":65},{"t":5.72,"r":95},{"t":5.77,"r":70},{"t":5.82,"r":45},{"t":5.87,"r":20},{"t":5.92,"r":35},{"t":5.97,"r":15},
{"t":6.07,"r":25},{"t":6.12,"r":50},{"t":6.17,"r":80},{"t":6.22,"r":35},{"t":6.27,"r":15},{"t":6.32,"r":20},{"t":6.37,"r":45},{"t":6.42,"r":75},{"t":6.47,"r":110},{"t":6.52,"r":160},{"t":6.58,"r":140},{"t":6.63,"r":50},
{"t":7.06,"r":60},{"t":7.11,"r":110},{"t":7.16,"r":170},{"t":7.21,"r":210},{"t":7.23,"r":130},{"t":7.26,"r":150},{"t":7.29,"r":230},{"t":7.31,"r":190},{"t":7.34,"r":100},{"t":7.38,"r":130},{"t":7.42,"r":150},{"t":7.47,"r":70},{"t":7.52,"r":90},{"t":7.57,"r":140},{"t":7.62,"r":50},{"t":7.67,"r":45},{"t":7.72,"r":35},{"t":7.77,"r":25},{"t":7.82,"r":20},{"t":7.87,"r":25},{"t":7.92,"r":10},{"t":7.97,"r":15},{"t":8.02,"r":35},{"t":8.07,"r":80},{"t":8.12,"r":60},{"t":8.17,"r":20},{"t":8.22,"r":15},{"t":8.27,"r":10},{"t":8.32,"r":20},{"t":8.37,"r":15},{"t":8.42,"r":25},{"t":8.47,"r":40},{"t":8.52,"r":90},{"t":8.57,"r":160},{"t":8.61,"r":210},{"t":8.66,"r":230},{"t":8.69,"r":190},{"t":8.71,"r":260},{"t":8.74,"r":130},{"t":8.78,"r":200},{"t":8.82,"r":120},{"t":8.87,"r":60},{"t":8.92,"r":20},
{"t":9.02,"r":10},{"t":9.07,"r":15},{"t":9.12,"r":5},{"t":9.17,"r":10},{"t":9.22,"r":20},{"t":9.27,"r":15},{"t":9.32,"r":10},{"t":9.37,"r":20},{"t":9.42,"r":25},{"t":9.47,"r":35},{"t":9.52,"r":55},{"t":9.57,"r":80},{"t":9.62,"r":110},{"t":9.67,"r":70},{"t":9.72,"r":150},{"t":9.74,"r":220},{"t":9.78,"r":180},{"t":9.82,"r":240},{"t":9.86,"r":170},{"t":9.91,"r":120},{"t":9.95,"r":80},{"t":9.99,"r":40},
{"t":10.02,"r":15},{"t":10.07,"r":20},{"t":10.12,"r":10},{"t":10.17,"r":15},{"t":10.22,"r":10},{"t":10.27,"r":15},{"t":10.32,"r":10},{"t":10.37,"r":10},{"t":10.42,"r":20},{"t":10.47,"r":25},{"t":10.52,"r":20},{"t":10.57,"r":35},{"t":10.62,"r":50},{"t":10.67,"r":80},{"t":10.72,"r":120},{"t":10.74,"r":180},{"t":10.78,"r":150},{"t":10.82,"r":110},{"t":10.85,"r":190},{"t":10.88,"r":120},{"t":10.93,"r":80},{"t":10.97,"r":60},{"t":11.02,"r":30},{"t":11.07,"r":25},
{"t":11.12,"r":20},{"t":11.17,"r":10},{"t":11.22,"r":15},{"t":11.27,"r":20},{"t":11.32,"r":10},{"t":11.37,"r":20},{"t":11.45,"r":15},{"t":11.55,"r":10},{"t":11.65,"r":20},{"t":11.75,"r":12},{"t":11.85,"r":15},{"t":11.95,"r":10},{"t":12.05,"r":15},{"t":12.15,"r":12},{"t":12.25,"r":15},{"t":12.35,"r":10},{"t":12.45,"r":12},{"t":12.55,"r":15},{"t":12.65,"r":10},{"t":12.75,"r":12},{"t":12.85,"r":15},{"t":12.93,"r":12}],
"green": [{"t":5.05,"r":20},{"t":5.15,"r":30},{"t":5.3,"r":15},{"t":5.32,"r":96},{"t":5.4,"r":25},{"t":5.5,"r":15},{"t":5.6,"r":30},{"t":5.7,"r":20},{"t":5.85,"r":25},{"t":5.95,"r":15},{"t":6.05,"r":20},{"t":6.2,"r":30},{"t":6.3,"r":15},{"t":6.45,"r":25},{"t":6.6,"r":20},{"t":7.05,"r":15},{"t":7.1,"r":25},{"t":7.15,"r":40},{"t":7.2,"r":20},{"t":7.25,"r":30},{"t":7.3,"r":15},{"t":7.34,"r":65},{"t":7.34,"r":135},{"t":7.34,"r":183},{"t":7.34,"r":270},{"t":7.34,"r":551},{"t":7.5,"r":20},{"t":7.6,"r":30},{"t":7.7,"r":15},{"t":7.8,"r":25},{"t":7.9,"r":20},{"t":8.0,"r":30},{"t":8.1,"r":15},{"t":8.2,"r":20},{"t":8.3,"r":25},{"t":8.5,"r":15},{"t":8.6,"r":30},{"t":8.7,"r":20},{"t":8.8,"r":15},{"t":9.0,"r":25},{"t":9.15,"r":15},{"t":9.35,"r":20},{"t":9.44,"r":540},{"t":9.45,"r":30},{"t":9.55,"r":15},{"t":9.7,"r":20},{"t":9.85,"r":25},{"t":10.0,"r":15},{"t":10.1,"r":20},{"t":10.3,"r":25},{"t":10.4,"r":15},{"t":10.55,"r":20},{"t":10.7,"r":25},{"t":10.9,"r":15},{"t":11.0,"r":20},{"t":11.2,"r":25},{"t":11.4,"r":15},{"t":11.6,"r":20},{"t":11.9,"r":15},{"t":12.2,"r":20},{"t":12.35,"r":15},{"t":12.86,"r":42},{"t":12.86,"r":8},
{"t":5.1,"r":10},{"t":5.22,"r":25},{"t":5.45,"r":10},{"t":5.55,"r":20},{"t":5.65,"r":10},{"t":5.78,"r":15},{"t":5.9,"r":10},{"t":6.0,"r":25},{"t":6.12,"r":10},{"t":6.25,"r":20},{"t":6.38,"r":10},{"t":6.52,"r":15},{"t":7.08,"r":10},{"t":7.18,"r":35},{"t":7.28,"r":25},{"t":7.4,"r":10},{"t":7.55,"r":15},{"t":7.65,"r":20},{"t":7.75,"r":10},{"t":7.85,"r":15},{"t":7.95,"r":10},{"t":8.05,"r":20},{"t":8.15,"r":10},{"t":8.25,"r":15},{"t":8.4,"r":20},{"t":8.55,"r":10},{"t":8.65,"r":15},{"t":8.75,"r":25},{"t":8.85,"r":10},{"t":9.05,"r":15},{"t":9.25,"r":10},{"t":9.5,"r":20},{"t":9.62,"r":10},{"t":9.78,"r":15},{"t":9.92,"r":10},{"t":10.05,"r":25},{"t":10.2,"r":10},{"t":10.35,"r":15},{"t":10.48,"r":10},{"t":10.62,"r":15},{"t":10.8,"r":10},{"t":10.95,"r":20},{"t":11.1,"r":10},{"t":11.3,"r":15},{"t":11.5,"r":10},{"t":11.75,"r":15},{"t":12.0,"r":10},{"t":12.1,"r":20},{"t":12.5,"r":10},{"t":12.7,"r":15}]
},
"vconcat": [
{
  "width": 946, "height": 355,
  "layer": [
    {"data": {"name": "bands"}, "mark": {"type": "rect", "color": "#979797"},
     "encoding": {"x": {"field": "a", "type": "quantitative", "scale": {"domain": [1, 13], "nice": false, "zero": false},
       "axis": {"orient": "top", "values": [1,2,3,4,5,6,7,8,9,10,11,12,13], "labels": false, "tickSize": 10,
         "title": "BOR: Gas, GPS with dt; Seismicity with Phi", "titleFontSize": 39, "titleAlign": "center", "titleBaseline": "alphabetic", "titleX": 468, "titleY": -41}}, "x2": {"field": "b"}}},
    {"data": {"name": "gps"}, "mark": {"type": "line", "color": "#b5b5b5", "strokeWidth": 10, "strokeCap": "round", "strokeJoin": "round", "clip": true},
     "encoding": {"x": {"field": "t", "type": "quantitative", "scale": {"domain": [1, 13], "nice": false, "zero": false}, "axis": null},
       "y": {"field": "g", "type": "quantitative", "scale": {"domain": [1157, 1161], "nice": false, "zero": false},
         "axis": {"orient": "right", "values": [1157,1157.1,1157.2,1157.3,1157.4,1157.5,1157.6,1157.7,1157.8,1157.9,1158,1158.1,1158.2,1158.3,1158.4,1158.5,1158.6,1158.7,1158.8,1158.9,1159,1159.1,1159.2,1159.3,1159.4,1159.5,1159.6,1159.7,1159.8,1159.9,1160,1160.1,1160.2,1160.3,1160.4,1160.5,1160.6,1160.7,1160.8,1160.9,1161],
           "labelExpr": "abs(datum.value - round(datum.value)) < 0.01 ? '' + round(datum.value) : ''",
           "tickSize": {"condition": {"test": "abs(datum.value - round(datum.value)) < 0.01", "value": 10}, "value": 5},
           "labelPadding": 14, "labelBaseline": "middle", "labelFontSize": 30,
           "title": "GPS Baseline", "titleFontSize": 39, "titleAngle": 90, "titleAlign": "center", "titleBaseline": "alphabetic", "titleX": 113, "titleY": 170}},
       "detail": {"field": "s"}}},
    {"data": {"name": "gas"}, "mark": {"type": "errorbar", "ticks": true, "size": 10, "thickness": 1, "color": "#eeee77", "clip": true},
     "encoding": {"x": {"field": "t", "type": "quantitative", "scale": {"domain": [1, 13], "nice": false, "zero": false}, "axis": null},
       "y": {"field": "g", "type": "quantitative", "scale": {"domain": [0, 2500], "nice": false, "zero": false}, "axis": null}, "yError": {"field": "e"}}},
    {"data": {"name": "gas"}, "mark": {"type": "circle", "color": "#ffff00", "size": 32, "opacity": 1, "clip": true},
     "encoding": {"x": {"field": "t", "type": "quantitative", "scale": {"domain": [1, 13], "nice": false, "zero": false},
         "axis": {"orient": "bottom", "values": [1,1.5,2,2.5,3,3.5,4,4.5,5,5.5,6,6.5,7,7.5,8,8.5,9,9.5,10,10.5,11,11.5,12,12.5,13],
           "labelExpr": "datum.value % 1 == 0.5 ? (datum.value < 10 ? '0' : '') + floor(datum.value) : ''",
           "tickSize": {"condition": {"test": "datum.value % 1 != 0", "value": 0}, "value": 6},
           "labelBaseline": "top", "labelPadding": 11, "labelOffset": 8, "labelFontSize": 29, "title": null}},
       "y": {"field": "g", "type": "quantitative", "scale": {"domain": [0, 2500], "nice": false, "zero": false},
         "axis": {"orient": "left", "values": [0,250,500,750,1000,1250,1500,1750,2000,2250,2500],
           "labelExpr": "datum.value % 500 == 0 ? datum.label : ''", "format": "d",
           "tickSize": 8, "labelPadding": 14, "labelBaseline": "middle",
           "labelOffset": {"condition": {"test": "datum.value == 2500", "value": 9}, "value": 0},
           "title": ["Gas", "Conc."], "titleFontSize": 39, "titleAngle": 0, "titleAlign": "left", "titleBaseline": "alphabetic", "titleX": -80, "titleY": -64, "titleLineHeight": 45}}}},
    {"data": {"name": "redtop"}, "mark": {"type": "circle", "color": "#ff0000", "size": 95, "opacity": 1, "clip": true},
     "encoding": {"x": {"field": "t", "type": "quantitative", "scale": {"domain": [1, 13], "nice": false, "zero": false}, "axis": null},
       "y": {"field": "g", "type": "quantitative", "scale": {"domain": [0, 2500], "nice": false, "zero": false}, "axis": null}}},
    {"data": {"name": "dt"}, "mark": {"type": "errorbar", "ticks": true, "size": 12, "thickness": 1, "color": "#3a3ac8", "clip": true},
     "encoding": {"x": {"field": "t", "type": "quantitative", "scale": {"domain": [1, 13], "nice": false, "zero": false}, "axis": null},
       "y": {"field": "v", "type": "quantitative", "scale": {"domain": [0, 0.4], "nice": false, "zero": false}, "axis": null}, "yError": {"field": "e"}}},
    {"data": {"name": "dt"}, "mark": {"type": "circle", "color": "#0a0ae0", "size": 130, "opacity": 1, "clip": true},
     "encoding": {"x": {"field": "t", "type": "quantitative", "scale": {"domain": [1, 13], "nice": false, "zero": false}, "axis": null},
       "y": {"field": "v", "type": "quantitative", "scale": {"domain": [0, 0.4], "nice": false, "zero": false},
         "axis": {"orient": "left", "offset": 108, "values": [0, 0.1, 0.2, 0.3, 0.4], "format": ".1f", "ticks": false, "tickSize": 0, "labelPadding": 0, "labelBaseline": "middle",
           "labelOffset": {"condition": {"test": "datum.value > 0.35", "value": 5}, "value": 0},
           "title": "dt (s)", "titleFontSize": 39, "titleAngle": 0, "titleAlign": "left", "titleBaseline": "alphabetic", "titleX": -87, "titleY": -41}}}}
  ],
  "resolve": {"scale": {"y": "independent"}, "axis": {"x": "independent", "y": "independent"}}
},
{
  "width": 946, "height": 356,
  "layer": [
    {"data": {"name": "bands"}, "mark": {"type": "rect", "color": "#979797"},
     "encoding": {"x": {"field": "a", "type": "quantitative", "scale": {"domain": [1, 13], "nice": false, "zero": false}, "axis": {"orient": "top", "values": [1,2,3,4,5,6,7,8,9,10,11,12,13], "labels": false, "tickSize": 7, "title": null}}, "x2": {"field": "b"}}},
    {"data": {"name": "phiY"}, "mark": {"type": "errorbar", "ticks": true, "size": 10, "thickness": 1, "color": "#eeee77", "clip": true},
     "encoding": {"x": {"field": "t", "type": "quantitative", "scale": {"domain": [1, 13], "nice": false, "zero": false}, "axis": null},
       "y": {"field": "p", "type": "quantitative", "scale": {"domain": [0, 180], "nice": false, "zero": false}, "axis": null}, "yError": {"field": "e"}}},
    {"data": {"name": "phiY"}, "mark": {"type": "circle", "color": "#ffff00", "size": 32, "opacity": 1, "clip": true},
     "encoding": {"x": {"field": "t", "type": "quantitative", "scale": {"domain": [1, 13], "nice": false, "zero": false}, "axis": null},
       "y": {"field": "p", "type": "quantitative", "scale": {"domain": [0, 180], "nice": false, "zero": false}, "axis": null}}},
    {"data": {"name": "phiB"}, "mark": {"type": "errorbar", "ticks": true, "size": 12, "thickness": 1, "color": "#3a3ac8", "clip": true},
     "encoding": {"x": {"field": "t", "type": "quantitative", "scale": {"domain": [1, 13], "nice": false, "zero": false}, "axis": null},
       "y": {"field": "p", "type": "quantitative", "scale": {"domain": [0, 180], "nice": false, "zero": false}, "axis": null}, "yError": {"field": "e"}}},
    {"data": {"name": "phiB"}, "mark": {"type": "circle", "color": "#0a0ae0", "size": 130, "opacity": 1, "clip": true},
     "encoding": {"x": {"field": "t", "type": "quantitative", "scale": {"domain": [1, 13], "nice": false, "zero": false},
         "axis": {"orient": "bottom", "values": [1,1.0833,1.1667,1.25,1.3333,1.4167,1.5,1.5833,1.6667,1.75,1.8333,1.9167,2,2.0833,2.1667,2.25,2.3333,2.4167,2.5,2.5833,2.6667,2.75,2.8333,2.9167,3,3.0833,3.1667,3.25,3.3333,3.4167,3.5,3.5833,3.6667,3.75,3.8333,3.9167,4,4.0833,4.1667,4.25,4.3333,4.4167,4.5,4.5833,4.6667,4.75,4.8333,4.9167,5,5.0833,5.1667,5.25,5.3333,5.4167,5.5,5.5833,5.6667,5.75,5.8333,5.9167,6,6.0833,6.1667,6.25,6.3333,6.4167,6.5,6.5833,6.6667,6.75,6.8333,6.9167,7,7.0833,7.1667,7.25,7.3333,7.4167,7.5,7.5833,7.6667,7.75,7.8333,7.9167,8,8.0833,8.1667,8.25,8.3333,8.4167,8.5,8.5833,8.6667,8.75,8.8333,8.9167,9,9.0833,9.1667,9.25,9.3333,9.4167,9.5,9.5833,9.6667,9.75,9.8333,9.9167,10,10.0833,10.1667,10.25,10.3333,10.4167,10.5,10.5833,10.6667,10.75,10.8333,10.9167,11,11.0833,11.1667,11.25,11.3333,11.4167,11.5,11.5833,11.6667,11.75,11.8333,11.9167,12,12.0833,12.1667,12.25,12.3333,12.4167,12.5,12.5833,12.6667,12.75,12.8333,12.9167,13],
           "labelExpr": "abs(datum.value - floor(datum.value) - 0.5) < 0.01 ? (datum.value < 10 ? '0' : '') + floor(datum.value) : ''",
           "tickSize": {"condition": {"test": "abs(datum.value - round(datum.value)) < 0.01", "value": 27}, "value": 7},
           "tickColor": "#666", "labelBaseline": "top", "labelPadding": 15, "labelFontSize": 28,
           "title": "Years since 2000", "titleFontSize": 38, "titleAlign": "center", "titleBaseline": "alphabetic", "titleX": 411, "titleY": 80}},
       "y": {"field": "p", "type": "quantitative", "scale": {"domain": [0, 180], "nice": false, "zero": false},
         "axis": {"orient": "left", "values": [0,10,20,30,40,50,60,70,80,90,100,110,120,130,140,150,160,170,180],
           "labelExpr": "datum.value % 30 == 0 ? datum.label : ''",
           "tickSize": {"condition": {"test": "datum.value % 30 == 0", "value": 8}, "value": 5},
           "labelPadding": 13, "labelBaseline": "middle", "labelFontSize": 30,
           "title": "Phi (deg)", "titleFontSize": 39, "titleAngle": -90, "titleAlign": "center", "titleBaseline": "alphabetic", "titleX": -128, "titleY": 167}}}},
    {"data": {"name": "rate"}, "mark": {"type": "circle", "color": "#ff0000", "size": 110, "opacity": 1, "clip": true},
     "encoding": {"x": {"field": "t", "type": "quantitative", "scale": {"domain": [1, 13], "nice": false, "zero": false}, "axis": null},
       "y": {"field": "r", "type": "quantitative", "scale": {"domain": [0, 1000], "nice": false, "zero": false},
         "axis": {"orient": "right", "values": [0,50,100,150,200,250,300,350,400,450,500,550,600,650,700,750,800,850,900,950,1000],
           "labelExpr": "datum.value % 100 == 0 ? datum.label : ''", "format": "d",
           "tickSize": {"condition": {"test": "datum.value % 100 == 0", "value": 10}, "value": 6},
           "labelAlign": "right", "labelPadding": 82, "labelBaseline": "middle", "labelFontSize": 31,
           "title": "Rate of VT Earthquakes", "titleFontSize": 39, "titleAngle": 90, "titleAlign": "center", "titleBaseline": "alphabetic", "titleX": 123, "titleY": 170}}}},
    {"data": {"name": "green"}, "mark": {"type": "point", "shape": "diamond", "filled": true, "color": "#22ee22", "size": 70, "opacity": 1, "clip": true},
     "encoding": {"x": {"field": "t", "type": "quantitative", "scale": {"domain": [1, 13], "nice": false, "zero": false}, "axis": null},
       "y": {"field": "r", "type": "quantitative", "scale": {"domain": [0, 1000], "nice": false, "zero": false}, "axis": null}}}
  ],
  "resolve": {"scale": {"y": "independent"}, "axis": {"x": "independent", "y": "independent"}}
}
]
}
